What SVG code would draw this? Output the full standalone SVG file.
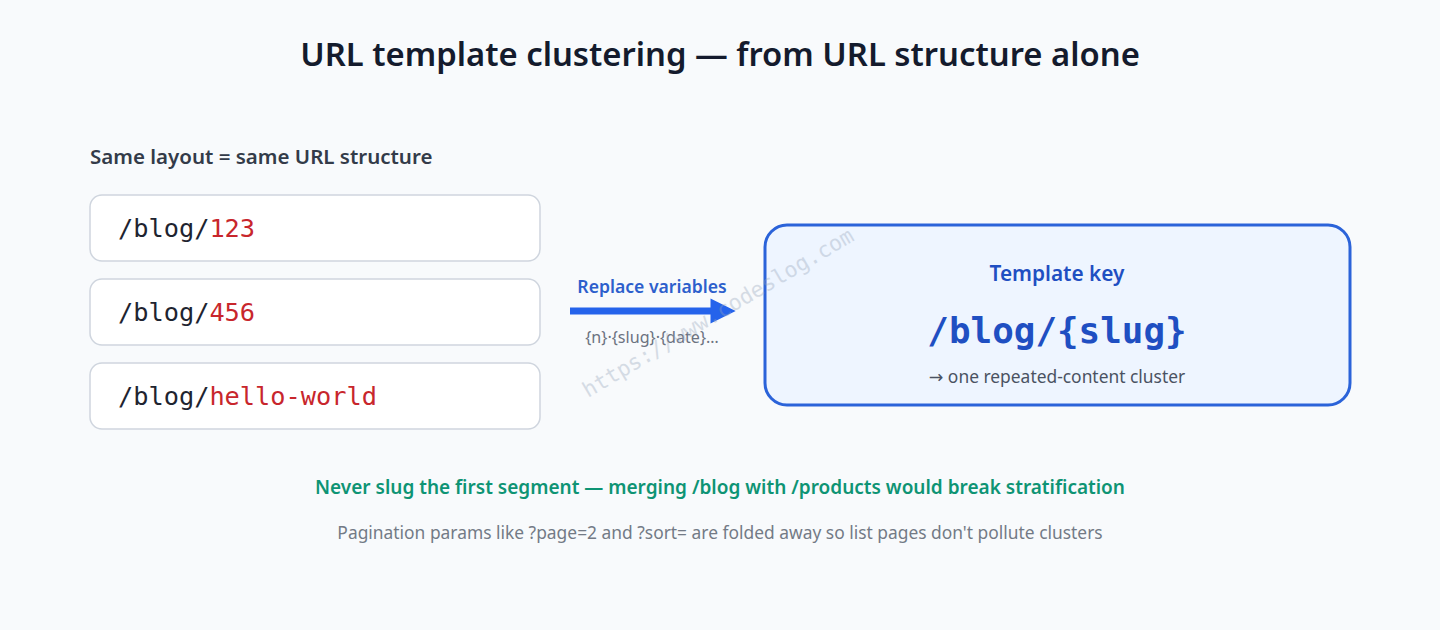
<svg xmlns="http://www.w3.org/2000/svg" width="1440" height="630" viewBox="0 0 1440 630">
<defs>
<style>
.sans{font-family:"Noto Sans","Open Sans","DejaVu Sans",sans-serif}
.mono{font-family:"DejaVu Sans Mono","Liberation Mono",monospace}
.url{fill:#ffffff;stroke:#cfd5de;stroke-width:1.5}
.urlt{font-size:25.3px;fill:#1e2430}
.var{fill:#c8262c}
</style>
<marker id="ah" viewBox="0 0 10 10" refX="1" refY="5" markerWidth="3.6" markerHeight="4.3" markerUnits="strokeWidth" orient="auto">
<path d="M0,0 L10,5 L0,10 z" fill="#2563eb"/>
</marker>
</defs>
<rect width="1440" height="630" fill="#f8fafc"/>
<text class="sans" x="720" y="66" text-anchor="middle" font-size="32.8" font-weight="600" fill="#141b2d">URL template clustering — from URL structure alone</text>
<text class="sans" x="90" y="164" font-size="20.5" font-weight="600" fill="#333b49">Same layout = same URL structure</text>
<g id="url1">
<rect class="url" x="90" y="195" width="450" height="66" rx="12"/>
<text class="mono urlt" x="118" y="237">/blog/<tspan class="var">123</tspan></text>
</g>
<g id="url2">
<rect class="url" x="90" y="279" width="450" height="66" rx="12"/>
<text class="mono urlt" x="118" y="321">/blog/<tspan class="var">456</tspan></text>
</g>
<g id="url3">
<rect class="url" x="90" y="363" width="450" height="66" rx="12"/>
<text class="mono urlt" x="118" y="405">/blog/<tspan class="var">hello-world</tspan></text>
</g>
<g id="connectors">
<line x1="570" y1="311" x2="713" y2="311" stroke="#2563eb" stroke-width="7" marker-end="url(#ah)"/>
<text class="sans" x="652" y="293" text-anchor="middle" font-size="17.6" font-weight="600" fill="#2d5fcc">Replace variables</text>
<text class="sans" x="652" y="343" text-anchor="middle" font-size="16.1" fill="#6b7280">{n}·{slug}·{date}…</text>
</g>
<g id="template">
<rect x="765" y="225" width="585" height="180" rx="22" fill="#eef5ff" stroke="#2b63d9" stroke-width="3"/>
<text class="sans" x="1057" y="281" text-anchor="middle" font-size="20.8" font-weight="600" fill="#1f4fc2">Template key</text>
<text class="mono" x="1057" y="343" text-anchor="middle" font-size="35.9" font-weight="700" fill="#1f4fc2">/blog/{slug}</text>
<text class="sans" x="1057" y="383" text-anchor="middle" font-size="17.4" fill="#4a5262">→ one repeated-content cluster</text>
</g>
<text class="sans" x="720" y="494" text-anchor="middle" font-size="19" font-weight="600" fill="#0e9474">Never slug the first segment — merging /blog with /products would break stratification</text>
<text class="sans" x="720" y="539" text-anchor="middle" font-size="17.4" fill="#737a86">Pagination params like ?page=2 and ?sort= are folded away so list pages don't pollute clusters</text>
<text class="mono" x="588" y="398" font-size="21.5" fill="#94a3b8" opacity="0.35" transform="rotate(-30.6 588 398)">https://www.codeslog.com</text>
</svg>
